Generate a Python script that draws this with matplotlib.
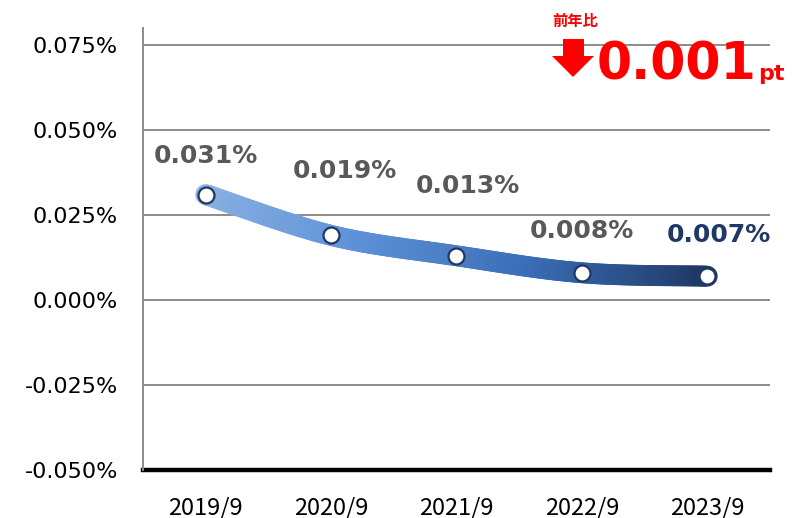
import numpy as np
import matplotlib
matplotlib.use("Agg")
import matplotlib.pyplot as plt
from matplotlib.collections import LineCollection
from matplotlib.colors import LinearSegmentedColormap
from matplotlib.patches import Polygon

# data
categories = ["2019/9", "2020/9", "2021/9", "2022/9", "2023/9"]
values = [0.031, 0.019, 0.013, 0.008, 0.007]
labels = ["0.031%", "0.019%", "0.013%", "0.008%", "0.007%"]
yticks = [-0.050, -0.025, 0.000, 0.025, 0.050, 0.075]
ytick_labels = ["-0.050%", "-0.025%", "0.000%", "0.025%", "0.050%", "0.075%"]
change_text = "0.001"

# label offsets in points (dx, dy)
label_offsets = [(0, 28), (10, 46), (8, 50), (0, 30), (8, 30)]

fig = plt.figure(figsize=(7.98, 5.18), dpi=100)
ax = fig.add_axes([0.1792, 0.0927, 0.7857, 0.8533])

x = np.arange(len(values))
y = np.array(values)

# smooth path for the line (Catmull-Rom, drawing only)
def smooth(xs, ys, n=40):
    px = np.concatenate([[xs[0]], xs, [xs[-1]]])
    py = np.concatenate([[ys[0]], ys, [ys[-1]]])
    out_x, out_y = [], []
    for i in range(1, len(px) - 2):
        t = np.linspace(0, 1, n, endpoint=False)
        for arr, out in ((px, out_x), (py, out_y)):
            p0, p1, p2, p3 = arr[i - 1], arr[i], arr[i + 1], arr[i + 2]
            out.extend(0.5 * ((2 * p1) + (-p0 + p2) * t
                              + (2 * p0 - 5 * p1 + 4 * p2 - p3) * t ** 2
                              + (-p0 + 3 * p1 - 3 * p2 + p3) * t ** 3))
    out_x.append(xs[-1])
    out_y.append(ys[-1])
    return np.array(out_x), np.array(out_y)

sx, sy = smooth(x.astype(float), y)
pts = np.column_stack([sx, sy]).reshape(-1, 1, 2)
segs = np.concatenate([pts[:-1], pts[1:]], axis=1)
cmap = LinearSegmentedColormap.from_list("band", ["#8db4e3", "#5a8fd5", "#3a6db5", "#1f3864"])
lc = LineCollection(segs, cmap=cmap, linewidth=15, capstyle="round", zorder=3)
lc.set_array(np.linspace(0, 1, len(segs)))
ax.add_collection(lc)

ax.plot(x, y, linestyle="none", marker="o", markersize=11.5,
        markerfacecolor="white", markeredgecolor="#1f3864",
        markeredgewidth=1.6, zorder=4)

for i, (xi, yi) in enumerate(zip(x, y)):
    color = "#1f3864" if i == len(x) - 1 else "#595959"
    dx, dy = label_offsets[i]
    ax.annotate(labels[i], (xi, yi), xytext=(dx, dy), textcoords="offset points",
                ha="center", va="center", fontsize=18, fontweight="bold",
                color=color, zorder=5)

ax.set_xlim(-0.5, len(categories) - 0.5)
ax.set_ylim(-0.050, 0.080)
ax.set_yticks(yticks)
ax.set_yticklabels(ytick_labels, fontsize=16)
ax.set_xticks(x)
ax.set_xticklabels(categories, fontsize=17, family=["Noto Sans CJK JP", "DejaVu Sans"])
ax.tick_params(axis="both", length=0)
ax.tick_params(axis="y", pad=18)
ax.tick_params(axis="x", pad=19)

for yv in yticks[1:]:
    ax.axhline(yv, color="#8c8c8c", linewidth=1.4, zorder=1)
ax.axhline(yticks[0], color="black", linewidth=3.2, zorder=2, clip_on=False)

for s in ["top", "right", "bottom"]:
    ax.spines[s].set_visible(False)
ax.spines["left"].set_color("#8c8c8c")
ax.spines["left"].set_linewidth(1.4)

# year-over-year annotation
fig.text(575 / 798, 1 - 21 / 518, "前年比", fontsize=11, fontweight="bold", color="red",
         ha="center", va="center", family=["Noto Sans CJK JP", "DejaVu Sans"])
arrow_xy = np.array([[563, 39], [584, 39], [584, 56], [594, 56], [573, 77],
                     [552, 56], [563, 56]], dtype=float)
arrow_xy[:, 0] = arrow_xy[:, 0] / 798
arrow_xy[:, 1] = 1 - arrow_xy[:, 1] / 518
fig.patches.append(Polygon(arrow_xy, closed=True, facecolor="red", edgecolor="none",
                           transform=fig.transFigure))
fig.text(597 / 798, 1 - 80 / 518, change_text, fontsize=36.5, fontweight="bold", color="red",
         ha="left", va="baseline")
fig.text(758 / 798, 1 - 80 / 518, "pt", fontsize=16, fontweight="bold", color="red",
         ha="left", va="baseline")

fig.savefig("out.png", dpi=100)
